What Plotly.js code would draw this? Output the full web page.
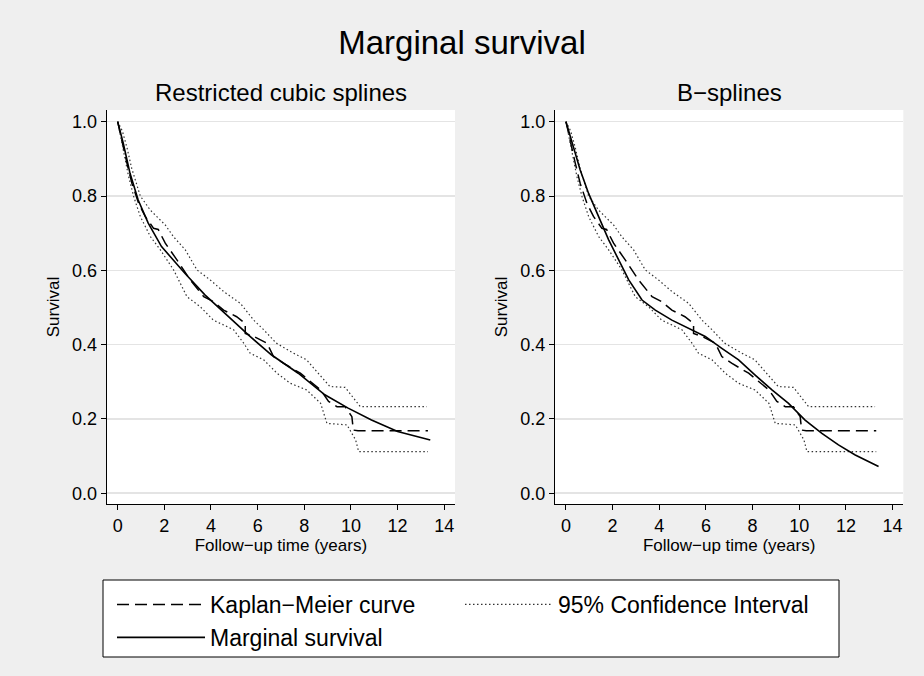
<!DOCTYPE html>
<html>
<head>
<meta charset="utf-8">
<script src="https://cdn.plot.ly/plotly-3.0.1.min.js"></script>
<style>html,body{margin:0;padding:0;background:#efefef;}#chart{width:924px;height:676px;}</style>
</head>
<body>
<div id="chart"></div>
<script>
// Kaplan–Meier estimate
const kmTime = [0, 0.18, 0.4, 0.61, 0.9, 1.18, 1.4, 1.54, 1.74, 2.04, 2.54, 3.11, 3.69, 4.1, 4.54, 5.1, 5.47, 5.47, 5.83, 6.4, 6.68, 7.1, 7.83, 8.26, 8.7, 9.04, 9.4, 9.75, 10.04, 10.1, 10.3, 13.3];
const kmSurv = [1, 0.946, 0.888, 0.834, 0.78, 0.745, 0.725, 0.713, 0.71, 0.673, 0.628, 0.574, 0.529, 0.516, 0.493, 0.475, 0.457, 0.43, 0.422, 0.404, 0.368, 0.35, 0.323, 0.30, 0.278, 0.247, 0.233, 0.233, 0.206, 0.17, 0.168, 0.168];

// 95% confidence interval
const ciUpTime = [0, 0.2, 0.4, 0.6, 0.97, 1.4, 2.04, 2.4, 2.9, 3.4, 3.97, 4.54, 5.26, 5.83, 6.26, 6.8, 7.54, 8.1, 8.47, 9.1, 9.75, 10.4, 13.25];
const ciUpSurv = [1, 0.975, 0.93, 0.875, 0.80, 0.762, 0.722, 0.69, 0.655, 0.601, 0.574, 0.543, 0.511, 0.466, 0.44, 0.404, 0.377, 0.359, 0.332, 0.287, 0.285, 0.233, 0.233];
const ciLoTime = [0, 0.2, 0.47, 0.69, 0.97, 1.4, 1.83, 2.4, 2.97, 3.54, 4.1, 4.97, 5.4, 5.68, 6.26, 6.83, 7.4, 8.1, 8.7, 8.97, 9.83, 10.2, 10.33, 13.3];
const ciLoSurv = [1, 0.94, 0.852, 0.798, 0.745, 0.691, 0.655, 0.601, 0.529, 0.502, 0.466, 0.44, 0.404, 0.377, 0.359, 0.323, 0.296, 0.278, 0.242, 0.188, 0.184, 0.1435, 0.112, 0.112];

// Marginal survival — restricted cubic splines
const rcsTime = [0, 0.24, 0.53, 0.88, 1.31, 1.88, 2.88, 3.74, 4.6, 5.6, 6.6, 7.74, 8.88, 9.88, 10.88, 12.0, 13.4];
const rcsSurv = [1, 0.942, 0.861, 0.789, 0.727, 0.664, 0.592, 0.534, 0.484, 0.426, 0.372, 0.323, 0.265, 0.229, 0.197, 0.166, 0.1435];

// Marginal survival — B-splines
const bsTime = [0, 0.26, 0.61, 0.97, 1.4, 1.83, 2.26, 2.69, 3.26, 3.83, 4.54, 5.26, 5.97, 6.68, 7.4, 8.11, 8.83, 9.54, 10.25, 10.97, 11.68, 12.4, 13.4];
const bsSurv = [1, 0.942, 0.87, 0.807, 0.745, 0.682, 0.628, 0.574, 0.52, 0.493, 0.466, 0.444, 0.422, 0.39, 0.359, 0.318, 0.278, 0.242, 0.197, 0.161, 0.13, 0.103, 0.072];

const panelTitles = ["Restricted cubic splines", "B\u2212splines"];
const xTicks = [0, 2, 4, 6, 8, 10, 12, 14];
const yTicks = [0, 0.2, 0.4, 0.6, 0.8, 1.0];
const legendNames = ["Kaplan\u2212Meier curve", "95% Confidence Interval", "Marginal survival"];

const FONT = "Liberation Sans, Arial, sans-serif";
const kmLine = {color: "#000", width: 1.5, dash: "12px,6px"};
const ciLine = {color: "#333", width: 1.2, dash: "1.5px,2.5px"};
const msLine = {color: "#000", width: 1.6};

const traces = [];
[["x", "y", rcsTime, rcsSurv], ["x2", "y2", bsTime, bsSurv]].forEach(function (p, i) {
  const show = i === 0;
  traces.push({x: kmTime, y: kmSurv, xaxis: p[0], yaxis: p[1], mode: "lines", line: kmLine, name: legendNames[0], showlegend: show, legendgroup: "km", hoverinfo: "skip"});
  traces.push({x: ciUpTime, y: ciUpSurv, xaxis: p[0], yaxis: p[1], mode: "lines", line: ciLine, name: legendNames[1], showlegend: show, legendgroup: "ci", hoverinfo: "skip"});
  traces.push({x: ciLoTime, y: ciLoSurv, xaxis: p[0], yaxis: p[1], mode: "lines", line: ciLine, name: legendNames[1], showlegend: false, legendgroup: "ci", hoverinfo: "skip"});
  traces.push({x: p[2], y: p[3], xaxis: p[0], yaxis: p[1], mode: "lines", line: msLine, name: legendNames[2], showlegend: show, legendgroup: "ms", hoverinfo: "skip"});
});

const W = 924, H = 676;
const yDom = [1 - 504 / H, 1 - 110 / H];
function xAxis(dom, anchor) {
  return {domain: dom, anchor: anchor, range: [-0.47, 14.46], tickvals: xTicks, ticks: "outside", ticklen: 5, tickcolor: "#000", tickwidth: 1,
    showline: true, linecolor: "#000", linewidth: 1, showgrid: false, zeroline: false,
    tickfont: {family: FONT, size: 18, color: "#000"},
    title: {text: "Follow\u2212up time (years)", font: {family: FONT, size: 17, color: "#000"}, standoff: 0}};
}
function yAxis(anchor) {
  return {domain: yDom, anchor: anchor, range: [-0.029, 1.0315], tickvals: yTicks, tickformat: ".1f", ticks: "outside", ticklen: 5, tickcolor: "#000", tickwidth: 1,
    showline: true, linecolor: "#000", linewidth: 1, showgrid: true, gridcolor: "#e4e4e4", gridwidth: 1.5, zeroline: false,
    tickfont: {family: FONT, size: 18, color: "#000"},
    title: {text: "Survival", font: {family: FONT, size: 17, color: "#000"}, standoff: 8}};
}

const xd1 = [106.7 / W, 455 / W], xd2 = [555 / W, 903.3 / W];
const layout = {
  width: W, height: H,
  margin: {l: 0, r: 0, t: 0, b: 0},
  paper_bgcolor: "#efefef", plot_bgcolor: "#ffffff",
  font: {family: FONT, color: "#000"},
  title: {text: "Marginal survival", x: 0.5, xanchor: "center", y: 1 - 42 / H, yanchor: "middle", font: {family: FONT, size: 33, color: "#000"}},
  xaxis: xAxis(xd1, "y"), yaxis: yAxis("x"),
  xaxis2: xAxis(xd2, "y2"), yaxis2: yAxis("x2"),
  annotations: [
    {text: panelTitles[0], xref: "paper", yref: "paper", x: (xd1[0] + xd1[1]) / 2, y: 1 - 93 / H, xanchor: "center", yanchor: "middle", showarrow: false, font: {family: FONT, size: 24, color: "#000"}},
    {text: panelTitles[1], xref: "paper", yref: "paper", x: (xd2[0] + xd2[1]) / 2, y: 1 - 93 / H, xanchor: "center", yanchor: "middle", showarrow: false, font: {family: FONT, size: 24, color: "#000"}}
  ],
  shapes: [
    {type: "rect", xref: "paper", yref: "paper", x0: 103 / W, x1: 839 / W, y0: 1 - 657 / H, y1: 1 - 580 / H, fillcolor: "#ffffff", line: {color: "#000", width: 1}, layer: "above"}
  ],
  showlegend: true,
  legend: {orientation: "h", x: 112 / W, xanchor: "left", y: 1 - 583 / H, yanchor: "top", bgcolor: "rgba(0,0,0,0)", borderwidth: 0,
    font: {family: FONT, size: 23, color: "#000"}, itemwidth: 88, entrywidth: 245, traceorder: "normal", itemclick: false, itemdoubleclick: false}
};

Plotly.newPlot("chart", traces, layout, {staticPlot: true, displayModeBar: false});
</script>
</body>
</html>
